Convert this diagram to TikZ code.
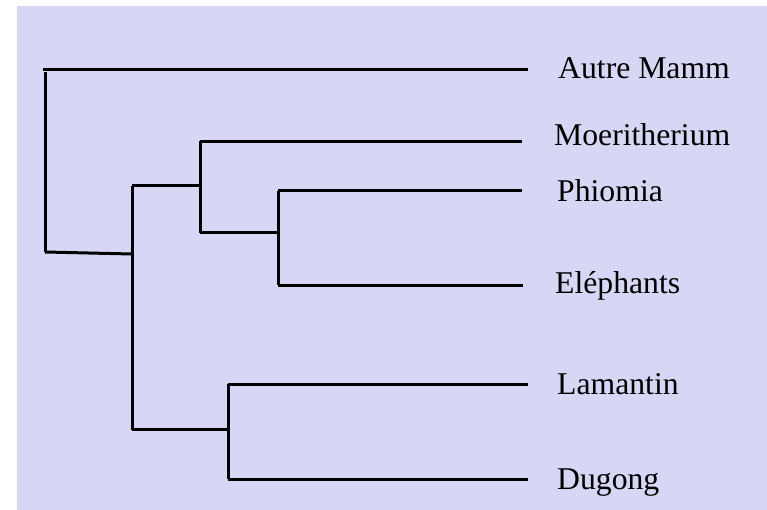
\documentclass[tikz,border=0pt]{standalone}
\usepackage{fontspec}
\setmainfont{Liberation Serif}
\definecolor{bg}{RGB}{215,215,245}
\begin{document}
\begin{tikzpicture}[x=1pt,y=-1pt,
  br/.style={line width=3pt, black},
  lab/.style={anchor=base west, inner sep=0pt, font=\fontsize{31.7}{36}\selectfont}]
\useasboundingbox (0,0) rectangle (767,510);
\fill[bg] (17,6) rectangle (767,510);
% labels
\node[lab] (autre) at (558,79) {Autre Mamm};
\node[lab] (moer) at (554,146) {Moeritherium};
\node[lab] (phio) at (557,202) {Phiomia};
\node[lab] (elep) at (555,293) {Eléphants};
\node[lab] (lama) at (557,394) {Lamantin};
\node[lab] (dugo) at (557,489) {Dugong};
% branch tips
\coordinate (tAutre) at (528,70);
\coordinate (tMoer) at (522,142);
\coordinate (tPhio) at (522,191);
\coordinate (tElep) at (523,285);
\coordinate (tLama) at (528,384);
\coordinate (tDugo) at (528,479);
% internal nodes
\coordinate (rTop) at (43,70);
\coordinate (rV) at (45,72);
\coordinate (rBot) at (45,252);
\coordinate (aIn) at (132,254);
\coordinate (aTop) at (132,186);
\coordinate (aBot) at (132,430);
\coordinate (bIn) at (200,186);
\coordinate (bTop) at (200,141);
\coordinate (bBot) at (200,233);
\coordinate (cIn) at (278,233);
\coordinate (cTop) at (278,191);
\coordinate (cBot) at (278,285);
\coordinate (aB) at (132,429);
\coordinate (dIn) at (228,429);
\coordinate (dTop) at (228,384);
\coordinate (dBot) at (228,479);
% branches
\draw[br] (rTop) -- (tAutre);
\draw[br] (rV) -- (rBot);
\draw[br] (rBot) -- (aIn);
\draw[br] (aTop) -- (aBot);
\draw[br] (aTop) -- (bIn);
\draw[br] (bTop) -- (bBot);
\draw[br] (bTop |- tMoer) -- (tMoer);
\draw[br] (bBot) -- (cIn);
\draw[br] (cTop) -- (cBot);
\draw[br] (cTop) -- (tPhio);
\draw[br] (cBot) -- (tElep);
\draw[br] (aB) -- (dIn);
\draw[br] (dTop) -- (dBot);
\draw[br] (dTop) -- (tLama);
\draw[br] (dBot) -- (tDugo);
\end{tikzpicture}
\end{document}
